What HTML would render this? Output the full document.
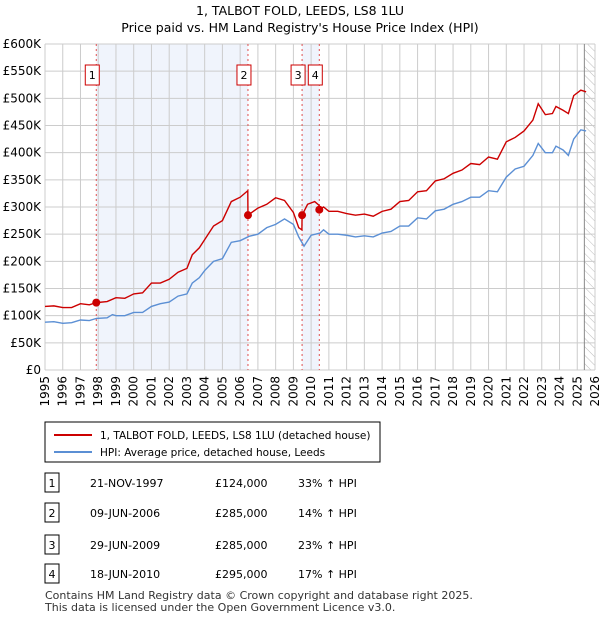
<!DOCTYPE html>
<html><head><meta charset="utf-8"><style>
body{margin:0;background:#fff;font-family:"Liberation Sans","DejaVu Sans",sans-serif;}
svg text{font-family:"DejaVu Sans","Liberation Sans",sans-serif;}
</style></head><body>
<svg id="c" width="600" height="620" xmlns="http://www.w3.org/2000/svg">
<defs><pattern id="hatch" width="6" height="6" patternUnits="userSpaceOnUse" patternTransform="rotate(-45)"><line x1="0" y1="0" x2="0" y2="6" stroke="#bbb" stroke-width="1"/></pattern></defs>
<text x="300" y="15" text-anchor="middle" font-size="12.5">1, TALBOT FOLD, LEEDS, LS8 1LU</text>
<text x="300" y="32" text-anchor="middle" font-size="12.5">Price paid vs. HM Land Registry's House Price Index (HPI)</text>
<g id="plot"></g>
<g>
<rect x="45" y="422" width="335" height="40" fill="#fff" stroke="#000" stroke-width="1"/>
<line x1="54" y1="435" x2="92" y2="435" stroke="#cc0000" stroke-width="2"/>
<text x="100" y="439" font-size="10.5">1, TALBOT FOLD, LEEDS, LS8 1LU (detached house)</text>
<line x1="54" y1="452" x2="92" y2="452" stroke="#5b8fd4" stroke-width="2"/>
<text x="100" y="456" font-size="10.5">HPI: Average price, detached house, Leeds</text>
</g>
<g id="tbl" font-size="11"></g>
<text x="45" y="599" font-size="11" fill="#333">Contains HM Land Registry data © Crown copyright and database right 2025.</text>
<text x="45" y="611" font-size="11" fill="#333">This data is licensed under the Open Government Licence v3.0.</text>
</svg>
<script>
const hpiT=[1995,1995.5,1996,1996.5,1997,1997.5,1997.9,1998.5,1998.8,1999,1999.5,2000,2000.5,2001,2001.5,2002,2002.5,2003,2003.3,2003.7,2004,2004.5,2005,2005.5,2006,2006.5,2007,2007.5,2008,2008.5,2009,2009.3,2009.6,2010,2010.5,2010.7,2011,2011.5,2012,2012.5,2013,2013.5,2014,2014.5,2015,2015.5,2016,2016.5,2017,2017.5,2018,2018.5,2019,2019.5,2020,2020.5,2021,2021.5,2022,2022.5,2022.8,2023.2,2023.6,2023.8,2024.2,2024.5,2024.8,2025.2,2025.5];
const hpiV=[88,89,86,87,92,91,95,96,102,100,100,106,106,117,122,125,136,140,160,170,183,200,205,235,238,246,250,262,268,278,268,245,228,248,252,258,250,250,248,245,247,245,252,255,265,265,280,278,293,296,305,310,318,318,330,328,355,370,375,395,417,400,400,412,405,395,425,442,440];
const ppT=[1995,1995.5,1996,1996.5,1997,1997.5,1997.9,1998.5,1999,1999.5,2000,2000.5,2001,2001.5,2002,2002.5,2003,2003.3,2003.7,2004,2004.5,2005,2005.5,2006,2006.43,2006.44,2007,2007.5,2008,2008.5,2009,2009.3,2009.48,2009.49,2009.8,2010.2,2010.45,2010.46,2010.7,2011,2011.5,2012,2012.5,2013,2013.5,2014,2014.5,2015,2015.5,2016,2016.5,2017,2017.5,2018,2018.5,2019,2019.5,2020,2020.5,2021,2021.5,2022,2022.5,2022.8,2023.2,2023.6,2023.8,2024.2,2024.5,2024.8,2025.2,2025.5];
const ppV=[117,118,115,115,122,120,124,126,133,132,140,142,160,160,167,180,187,212,225,240,265,275,310,318,330,285,298,305,317,312,290,262,258,285,305,310,303,295,300,292,292,288,285,287,283,292,296,310,312,328,330,348,352,362,368,380,378,392,388,420,428,440,460,490,470,472,485,478,472,505,515,512];
const saleT=[1997.89,2006.44,2009.49,2010.46];
const saleV=[124,285,285,295];
const saleDate=["21-NOV-1997","09-JUN-2006","29-JUN-2009","18-JUN-2010"];
const salePrice=["£124,000","£285,000","£285,000","£295,000"];
const saleHpi=["33% ↑ HPI","14% ↑ HPI","23% ↑ HPI","17% ↑ HPI"];
const yTicks=[0,50,100,150,200,250,300,350,400,450,500,550,600];
const xTicks=[];for(let y=1995;y<=2026;y++)xTicks.push(y);
const NS="http://www.w3.org/2000/svg";
const X0=45,X1=595,Y0=370,Y1=44;
const xs=t=>X0+(t-1995)/31*(X1-X0);
const ys=v=>Y0-v/600*(Y0-Y1);
function mk(tag,at,parent){const e=document.createElementNS(NS,tag);for(const k in at)e.setAttribute(k,at[k]);parent.appendChild(e);return e;}
const g=document.getElementById('plot');
let r=mk('rect',{x:xs(saleT[0]),y:Y1,width:xs(saleT[1])-xs(saleT[0]),height:Y0-Y1,fill:'#f0f4fc'},g);


r=mk('rect',{x:xs(saleT[2]),y:Y1,width:xs(saleT[3])-xs(saleT[2]),height:Y0-Y1,fill:'#f0f4fc'},g);


r=mk('rect',{x:xs(2025.4),y:Y1,width:X1-xs(2025.4),height:Y0-Y1,fill:'url(#hatch)'},g);


yTicks.forEach(v=>{const l=mk('line',{x1:X0,x2:X1,y1:ys(v),y2:ys(v),stroke:'#cccccc'},g);


const t=mk('text',{x:X0-4,y:ys(v)+4,'text-anchor':'end','font-size':12},g);t.textContent=v===0?'£0':'£'+v+'K';

});
xTicks.forEach(y=>{const l=mk('line',{x1:xs(y),x2:xs(y),y1:Y1,y2:Y0,stroke:'#cccccc'},g);


const t=mk('text',{x:0,y:0,'text-anchor':'end','font-size':12,transform:`translate(${xs(y)+4},${Y0+6}) rotate(-90)`},g);t.textContent=y;

});
let vl=mk('line',{x1:xs(2025.4),x2:xs(2025.4),y1:Y1,y2:Y0,stroke:'#888'},g);


saleT.forEach((t,i)=>{const l=mk('line',{x1:xs(t),x2:xs(t),y1:Y1,y2:Y0,stroke:'#e05050','stroke-dasharray':'2,3'},g);


const left=xs(t)-11;
const b=mk('rect',{x:left,y:65,width:14,height:20,fill:'#fff',stroke:'#cc0000'},g);


const tx=mk('text',{x:left+7,y:79,'text-anchor':'middle','font-size':11},g);tx.textContent=i+1;

});
const ln=(T,V,c,n)=>{const p=mk('polyline',{points:T.map((t,i)=>xs(t)+','+ys(V[i])).join(' '),fill:'none',stroke:c,'stroke-width':1.4},g);

};
ln(hpiT,hpiV,'#5b8fd4','hpi-line');
ln(ppT,ppV,'#cc0000','price-line');
saleT.forEach((t,i)=>{const c=mk('circle',{cx:xs(t),cy:ys(saleV[i]),r:4,fill:'#cc0000'},g);

});
const tb=document.getElementById('tbl');
const rowY=[483,513,545,574];
rowY.forEach((y,i)=>{const b=mk('rect',{x:45,y:y-10,width:14,height:19,fill:'#fff',stroke:'#000'},tb);


const cells=[[52,String(i+1),'middle'],[90,saleDate[i],'start'],[215,salePrice[i],'start'],[298,saleHpi[i],'start']];
cells.forEach(c=>{const t=mk('text',{x:c[0],y:y+4,'text-anchor':c[2]},tb);t.textContent=c[1];

});});
</script>
</body></html>
